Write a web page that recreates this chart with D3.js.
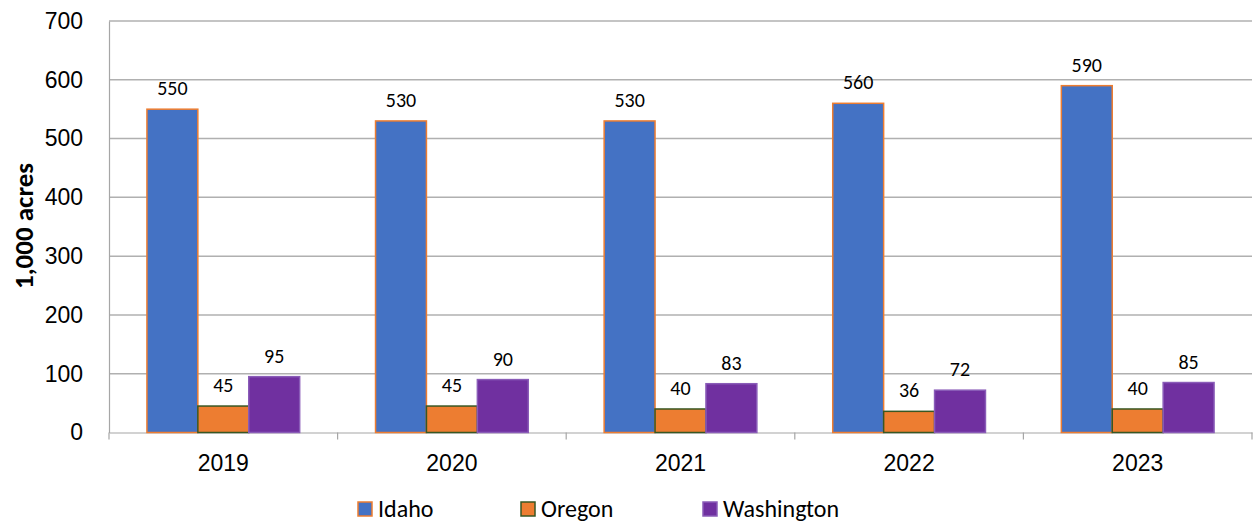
<!DOCTYPE html>
<html><head><meta charset="utf-8">
<script src="https://cdn.jsdelivr.net/npm/d3@7"></script>
<style>body{margin:0;background:#fff}svg{display:block;font-family:Carlito,Lato,"Liberation Sans",sans-serif}</style>
</head><body><svg id="c" width="1255" height="525"></svg>
<script>
const years = ["2019","2020","2021","2022","2023"];
const seriesNames = ["Idaho","Oregon","Washington"];
const idaho = [550,530,530,560,590];
const oregon = [45,45,40,36,40];
const washington = [95,90,83,72,85];
const yTicks = [0,100,200,300,400,500,600,700];
const fills = ["#4472C4","#ED7D31","#7030A0"];
const strokes = ["#ED7D31","#385723","#8A5CB8"];
const values = [idaho, oregon, washington];

const svg = d3.select("#c");
const L=109, R=1252, T=21, B=432.5;
const x0 = d3.scaleBand().domain(years).range([L,R]).paddingInner(0).paddingOuter(0);
const x1 = d3.scaleBand().domain(seriesNames).range([0,x0.bandwidth()]).paddingOuter(0.745).paddingInner(0);
const y = d3.scaleLinear().domain([0,700]).range([B,T]);

// gridlines
svg.append("g").selectAll("line").data(yTicks.filter(d=>d>0)).join("line")
 .attr("x1",L).attr("x2",R).attr("y1",d=>y(d)).attr("y2",d=>y(d))
 .attr("stroke","#B0B0B0").attr("stroke-width",1.5);

// y axis
const ya = svg.append("g").attr("transform",`translate(${L},0)`).call(d3.axisLeft(y).tickValues(yTicks).tickSize(0).tickPadding(26));
ya.select(".domain").attr("stroke","#A6A6A6").attr("stroke-width",1.2);
ya.selectAll("text").attr("font-size",23).attr("fill","#000").style("font-family","inherit");

// x axis
const xa = svg.append("g").attr("transform",`translate(0,${B})`).call(d3.axisBottom(x0).tickSize(0).tickPadding(22));
xa.select(".domain").attr("stroke","#A6A6A6").attr("stroke-width",1.2);
xa.selectAll("text").attr("font-size",23).attr("fill","#000").style("font-family","inherit");
svg.append("g").selectAll("line").data(years.map(d=>x0(d)).concat([R])).join("line")
 .attr("x1",d=>d).attr("x2",d=>d).attr("y1",B).attr("y2",B+7).attr("stroke","#A6A6A6").attr("stroke-width",1.2);

// bars
const g = svg.append("g");
seriesNames.forEach((s,si)=>{
  const vals = values[si];
  g.append("g").selectAll("rect").data(years).join("rect")
   .attr("x",d=>x0(d)+x1(s))
   .attr("y",(d,i)=>y(vals[i]))
   .attr("width",x1.bandwidth())
   .attr("height",(d,i)=>B-y(vals[i]))
   .attr("fill",fills[si]).attr("stroke",strokes[si]).attr("stroke-width",1.5);
  g.append("g").selectAll("text").data(years).join("text")
   .attr("x",d=>x0(d)+x1(s)+x1.bandwidth()/2)
   .attr("y",(d,i)=>y(vals[i])-14)
   .attr("text-anchor","middle").attr("font-size",20).attr("fill","#000")
   .text((d,i)=>vals[i]);
});

// y label
svg.append("text").attr("transform","translate(33,226) rotate(-90)")
 .attr("text-anchor","middle").attr("font-size",27).attr("font-weight","bold").text("1,000 acres");

// legend
const legX=[358,521,703];
const lg = svg.append("g");
seriesNames.forEach((s,i)=>{
  lg.append("rect").attr("x",legX[i]).attr("y",502).attr("width",14).attr("height",14)
    .attr("fill",fills[i]).attr("stroke",strokes[i]).attr("stroke-width",1.5);
  lg.append("text").attr("x",legX[i]+20).attr("y",517).attr("font-size",24).attr("fill","#000").text(s);
});
</script></body></html>
